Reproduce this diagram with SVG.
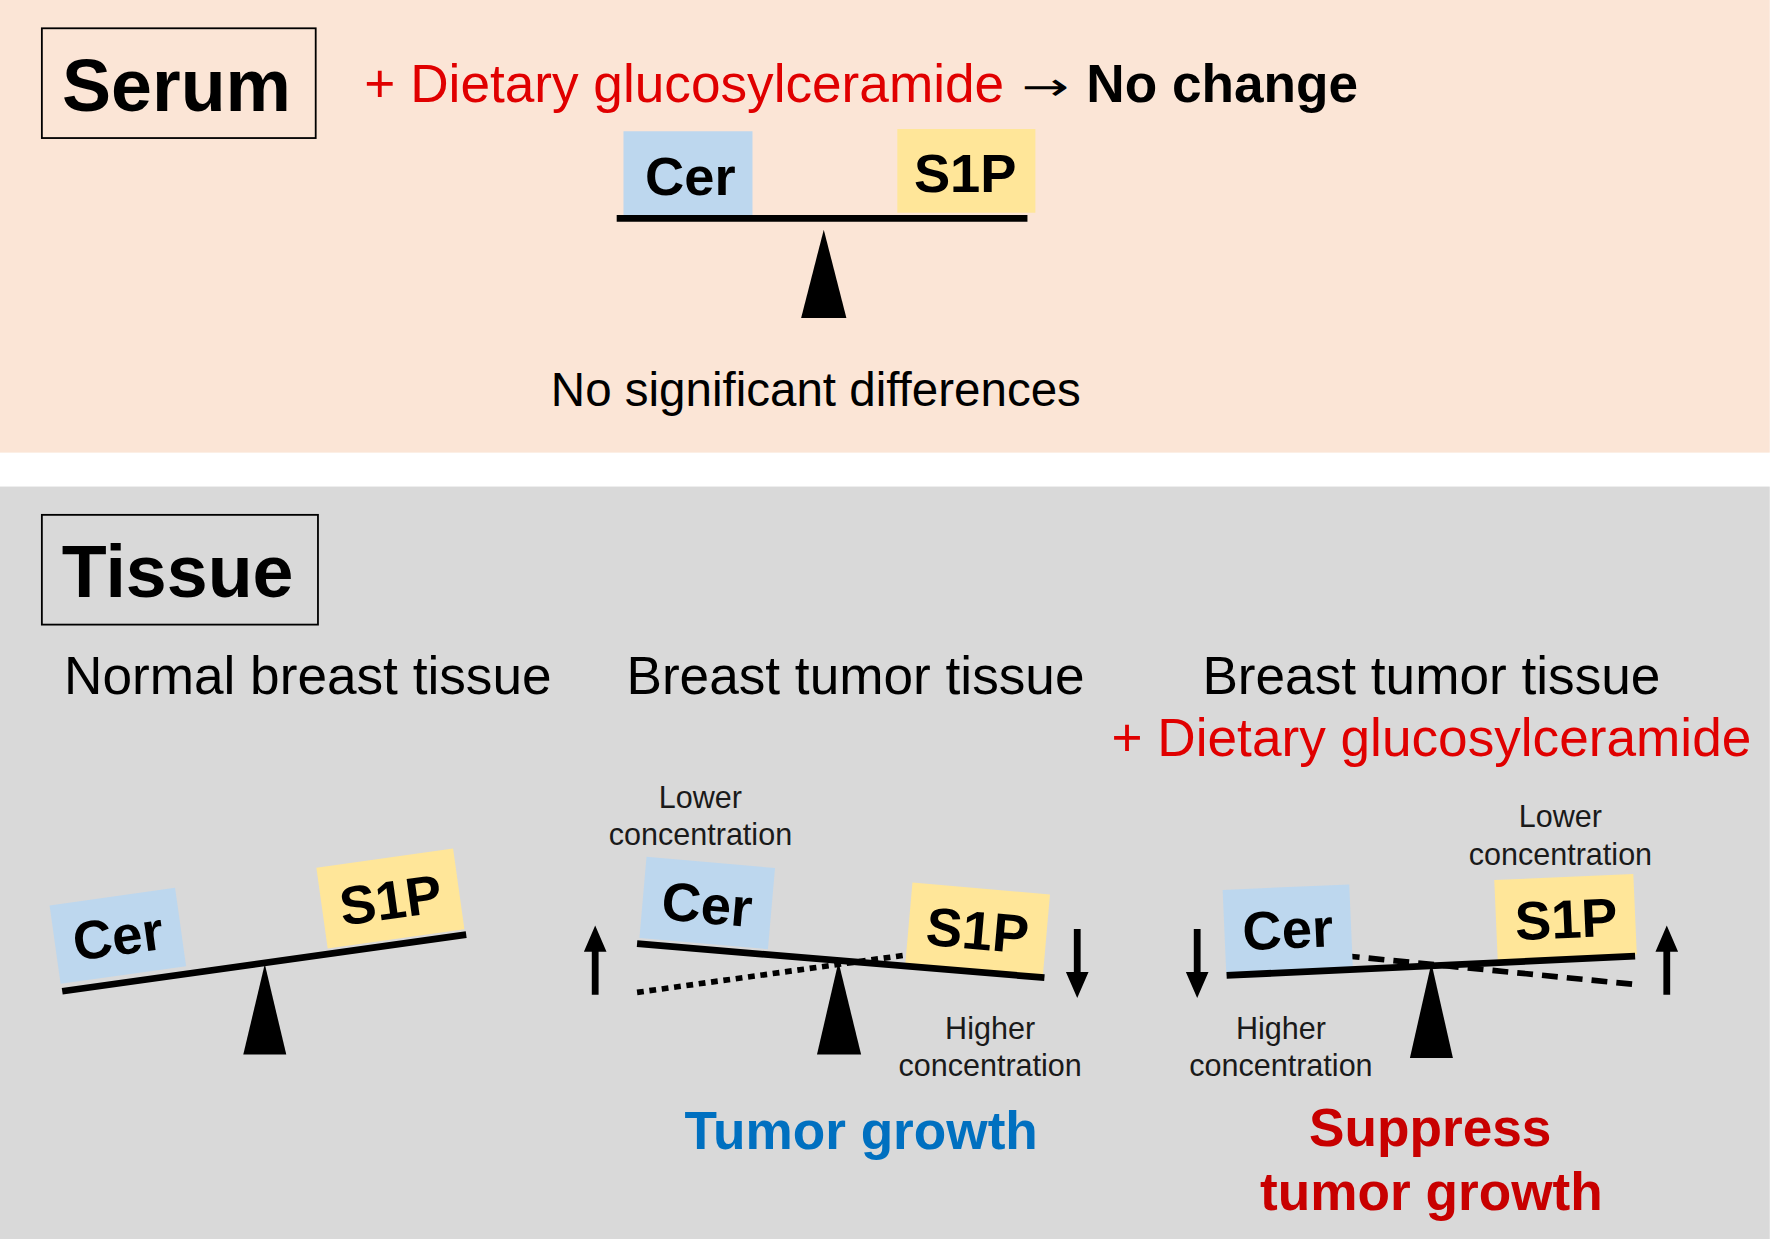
<svg xmlns="http://www.w3.org/2000/svg" width="1772" height="1239" viewBox="0 0 1772 1239">
<defs>
<style>
.t{font-family:"Liberation Sans",Arial,sans-serif;}
.b{font-family:"Liberation Sans",Arial,sans-serif;font-weight:bold;}
.cer{fill:#BDD7EE;}
.s1p{fill:#FFE699;}
.beam{stroke:#000;stroke-width:6;fill:none;}
.lbl{font-family:"Liberation Sans",Arial,sans-serif;font-weight:bold;font-size:48px;text-anchor:middle;fill:#000;}
.conc{font-family:"Liberation Sans",Arial,sans-serif;font-size:27px;text-anchor:middle;fill:#1a1a1a;}
.arr{fill:#000;stroke:none;}
</style>
<path id="uparrow" d="M0,0 L10,23 L3,23 L3,61 L-3,61 L-3,23 L-10,23 Z"/>
</defs>
<rect x="0" y="0" width="1772" height="1239" fill="#FFFFFF"/>
<g transform="scale(1.13155)">
<rect x="0" y="0" width="1564" height="400" fill="#FBE5D6"/>
<rect x="0" y="430" width="1564" height="666" fill="#D9D9D9"/>

<g id="serum-title">
<rect x="37" y="25" width="242" height="97" fill="none" stroke="#000" stroke-width="1.6"/>
<text x="156" y="98" class="b" font-size="65" text-anchor="middle">Serum</text>
</g>
<g id="serum-caption">
<text x="322" y="90" class="t" font-size="47" fill="#E00000">+ Dietary glucosylceramide</text>
<text x="903" y="88" font-family="DejaVu Sans,sans-serif" font-size="34" fill="#000" textLength="42" lengthAdjust="spacingAndGlyphs">→</text>
<text x="960" y="90" class="b" font-size="47" fill="#000">No change</text>
</g>
<g id="serum-balance">
<rect x="551" y="116" width="114" height="74" class="cer"/>
<text x="610" y="172" class="lbl">Cer</text>
<rect x="793" y="114" width="122" height="74" class="s1p"/>
<text x="853" y="170" class="lbl">S1P</text>
<line x1="545" y1="193" x2="908" y2="193" class="beam"/>
<polygon points="728,203 748,281 708,281" fill="#000"/>
</g>
<g id="serum-result">
<text x="721" y="359" class="t" font-size="42" text-anchor="middle" fill="#000">No significant differences</text>
</g>

<g id="tissue-title">
<rect x="37" y="455" width="244" height="97" fill="none" stroke="#000" stroke-width="1.6"/>
<text x="157" y="528" class="b" font-size="65" text-anchor="middle">Tissue</text>
</g>

<g id="normal">
<text x="272" y="613" class="t" font-size="47" text-anchor="middle" fill="#000">Normal breast tissue</text>
<g transform="rotate(-8 104 826)">
<rect x="48" y="792" width="112" height="70" class="cer"/>
<text x="104" y="844" class="lbl">Cer</text>
</g>
<g transform="rotate(-8 345 794)">
<rect x="284" y="758" width="122" height="72" class="s1p"/>
<text x="345" y="812" class="lbl">S1P</text>
</g>
<line x1="55" y1="876" x2="412" y2="826" class="beam"/>
<polygon points="234,852 253,932 215,932" fill="#000"/>
</g>

<g id="tumor">
<text x="756" y="613" class="t" font-size="47" text-anchor="middle" fill="#000">Breast tumor tissue</text>
<text x="619" y="714" class="conc">Lower</text>
<text x="619" y="747" class="conc">concentration</text>
<line x1="563" y1="877" x2="880" y2="833" stroke="#000" stroke-width="5" stroke-dasharray="6 5"/>
<g transform="rotate(5 625 798)">
<rect x="568" y="762" width="114" height="72" class="cer"/>
<text x="625" y="816" class="lbl">Cer</text>
</g>
<g transform="rotate(5 864 821)">
<rect x="803" y="785" width="122" height="72" class="s1p"/>
<text x="864" y="839" class="lbl">S1P</text>
</g>
<line x1="563" y1="834" x2="923" y2="864" class="beam"/>
<polygon points="741,850 761,932 722,932" fill="#000"/>
<text x="875" y="918" class="conc">Higher</text>
<text x="875" y="951" class="conc">concentration</text>
<text x="761" y="1015" class="b" font-size="47" text-anchor="middle" fill="#0070C0">Tumor growth</text>
</g>

<g id="tumor-glc">
<text x="1265" y="613" class="t" font-size="47" text-anchor="middle" fill="#000">Breast tumor tissue</text>
<text x="1265" y="668" class="t" font-size="47" text-anchor="middle" fill="#E00000">+ Dietary glucosylceramide</text>
<text x="1379" y="731" class="conc">Lower</text>
<text x="1379" y="764" class="conc">concentration</text>
<line x1="1100" y1="836" x2="1445" y2="870" stroke="#000" stroke-width="5" stroke-dasharray="14 8"/>
<g transform="rotate(-2.5 1138 820)">
<rect x="1082" y="784" width="112" height="73" class="cer"/>
<text x="1138" y="838" class="lbl">Cer</text>
</g>
<g transform="rotate(-2.5 1384 810)">
<rect x="1322" y="775" width="123" height="71" class="s1p"/>
<text x="1384" y="829" class="lbl">S1P</text>
</g>
<line x1="1084" y1="862" x2="1445" y2="845" class="beam"/>
<polygon points="1265,851 1284,935 1246,935" fill="#000"/>
<text x="1132" y="918" class="conc">Higher</text>
<text x="1132" y="951" class="conc">concentration</text>
<text x="1264" y="1013" class="b" font-size="47" text-anchor="middle" fill="#C80000">Suppress</text>
<text x="1265" y="1069" class="b" font-size="47" text-anchor="middle" fill="#C80000">tumor growth</text>
</g>

<g id="connectors">
<use href="#uparrow" class="arr" transform="translate(526,818)"/>
<use href="#uparrow" class="arr" transform="translate(952,882) scale(1,-1)"/>
<use href="#uparrow" class="arr" transform="translate(1058,882) scale(1,-1)"/>
<use href="#uparrow" class="arr" transform="translate(1473,818)"/>
</g>
</g>
</svg>
